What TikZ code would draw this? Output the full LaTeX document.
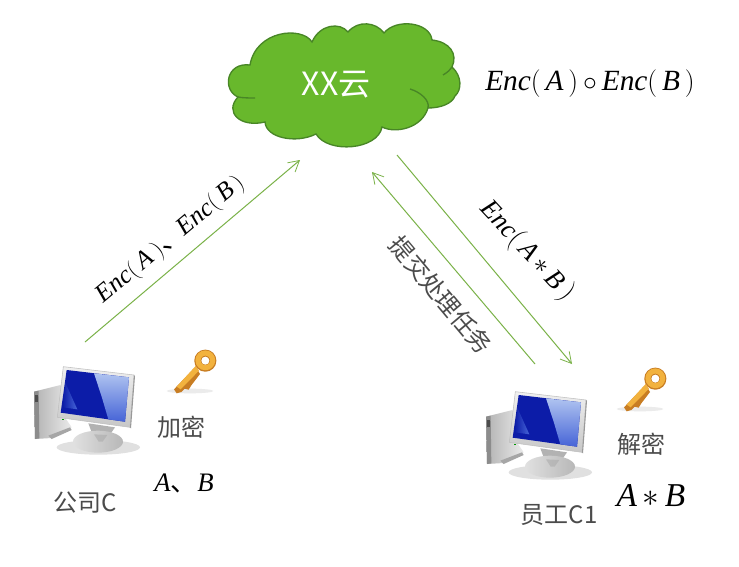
\documentclass[tikz,border=0pt]{standalone}
\usepackage{fontspec}
\setmainfont{Liberation Serif}
\newfontfamily\cjk{Noto Sans CJK SC}
\usetikzlibrary{arrows.meta}
\definecolor{linegreen}{RGB}{122,178,72}
\definecolor{cloudfill}{RGB}{104,184,44}
\definecolor{cloudedge}{RGB}{72,134,38}
\definecolor{txtgray}{RGB}{75,75,75}
\definecolor{glassdark}{RGB}{12,28,168}
\definecolor{glassmid}{RGB}{70,100,215}
\definecolor{glasslight}{RGB}{175,195,240}
\definecolor{keygold}{RGB}{242,178,62}
\definecolor{keydark}{RGB}{200,125,35}
\newcommand{\enc}{\textit{Enc}}
\tikzset{
  link/.style={draw=linegreen,line width=0.75pt,-{Straight Barb[length=8pt,width=9pt,line width=0.6pt]}},
  cjklabel/.style={font=\cjk\fontsize{18}{20}\selectfont,text=txtgray,inner sep=0pt},
  formula/.style={font=\fontsize{22}{24}\selectfont,text=black,inner sep=0pt},
  pics/computer/.style={code={
    \begin{scope}[x=0.25pt,y=-0.25pt]
      % shadow
      \fill[black!12] (235,322) ellipse [x radius=125,y radius=22];
      % tower
      \shade[left color=black!30,right color=black!8] (42,155) -- (122,135) -- (130,225) -- (155,262) -- (95,294) -- (45,297) -- cycle;
      \fill[black!45] (42,155) -- (56,152) -- (58,295) -- (45,297) -- cycle;
      \fill[black!70] (46,165) rectangle (54,185);
      \fill[black!35] (85,287) -- (150,262) -- (155,270) -- (95,297) -- cycle;
      % stand and foot
      \fill[black!30] (205,250) -- (285,262) -- (262,295) -- (220,290) -- cycle;
      \shade[left color=black!12,right color=black!28] (234,305) ellipse [x radius=75,y radius=33];
      \fill[black!35,opacity=.5] (222,283) -- (262,285) -- (248,305) -- (236,305) -- cycle;
      % monitor
      \shade[top color=black!6,bottom color=black!22,draw=black!25,line width=0.4pt] (130,80) -- (342,105) -- (330,262) -- (112,232) -- cycle;
      \fill[black!40] (342,105) -- (345,108) -- (333,265) -- (330,262) -- cycle;
      % glass
      \fill[glassdark] (140,90) -- (327,112) -- (315,245) -- (122,218) -- cycle;
      \shade[top color=glasslight,bottom color=glassmid] (222,100) -- (327,112) -- (315,245) -- (265,238) -- (245,170) -- cycle;
      \shade[left color=glassdark,right color=glassmid] (136,128) -- (172,208) -- (128,202) -- cycle;
      \fill[green!60!black] (127,236) rectangle (133,241);
    \end{scope}
  }},
  pics/goldkey/.style={code={
    \begin{scope}[x=0.25pt,y=-0.25pt]
      \fill[black!8] (510,153) ellipse [x radius=70,y radius=7];
      % shaft and teeth
      \fill[keydark] (527,80) -- (462,148) -- (470,160) -- (484,156) -- (494,146) -- (506,149) -- (514,136) -- (540,102) -- cycle;
      \fill[keygold] (527,78) -- (470,140) -- (482,148) -- (537,92) -- cycle;
      % ring
      \draw[keydark,line width=5.5pt] (556,62) circle (22);
      \draw[keygold,line width=3.8pt] (556,61) circle (22);
      \fill[white] (556,62) circle (12);
    \end{scope}
  }}
}
\begin{document}
\begin{tikzpicture}[x=0.75pt,y=-0.75pt]
\useasboundingbox (0,0) rectangle (739,567);
\fill[white] (0,0) rectangle (739,567);
% cloud
\fill[cloudfill,draw=cloudedge,line width=1pt]
 (250,65) .. controls (256,30) and (302,26) .. (312,42)
 .. controls (320,24) and (340,22) .. (348,32)
 .. controls (358,20) and (376,22) .. (384,33)
 .. controls (396,18) and (430,22) .. (432,40)
 .. controls (450,42) and (458,54) .. (452,67)
 .. controls (462,76) and (462,90) .. (455,96)
 .. controls (452,104) and (440,108) .. (428,108)
 .. controls (422,128) and (396,134) .. (382,127)
 .. controls (378,150) and (328,154) .. (316,134)
 .. controls (296,144) and (266,138) .. (265,122)
 .. controls (240,128) and (224,112) .. (238,97)
 .. controls (222,90) and (226,62) .. (250,65) -- cycle;
\draw[cloudedge,line width=1pt] (410,89) .. controls (420,92) and (430,100) .. (428,108);
\draw[cloudedge,line width=1pt] (443,75) .. controls (448,72) and (450,70) .. (452,67);
\draw[cloudedge,line width=1pt] (238,97) .. controls (243,98) and (250,98) .. (255,98);
\node[font=\cjk\fontsize{24}{26}\selectfont,text=white,inner sep=0pt] (cloud) at (336,85) {XX云};
% icons
\pic at (20,340) {computer};
\pic at (472,365) {computer};
\pic at (20,340) {goldkey};
\pic at (470,358) {goldkey};
% connector ends
\coordinate (cs) at (85,342);
\coordinate (ct) at (300,160);
\coordinate (es) at (397,155);
\coordinate (et) at (572,364);
\coordinate (ss) at (535,364);
\coordinate (st) at (372,172);
\draw[link] (cs) -- (ct);
\draw[link] (es) -- (et);
\draw[link] (ss) -- (st);
% labels
\node[formula] (total) at (590,84) {\enc$\biggl($\,\textit{A}\,$\biggr)$\,$\circ$\,\enc$\biggl($\,\textit{B}\,$\biggr)$};
\node[formula,font=\fontsize{19}{20}\selectfont,rotate=40] (up) at (171,240) {\enc$\Bigl($\,\textit{A}\,$\Bigr)${\cjk 、}\enc$\Bigl($\,\textit{B}\,$\Bigr)$};
\node[formula,font=\fontsize{20}{20}\selectfont,rotate=-47] (down) at (527,251) {\enc$\Bigl($\,\textit{A}\,$*$\,\textit{B}\,$\Bigr)$};
\node[cjklabel,rotate=-50] (task) at (441,295) {提交处理任务};
\node[cjklabel] (enclabel) at (181,427) {加密};
\node[cjklabel] (declabel) at (641,444) {解密};
\node[cjklabel] (company) at (85,503) {公司C};
\node[cjklabel] (staff) at (559,515) {员工C1};
\node[formula,font=\fontsize{20}{22}\selectfont] (ab) at (184,483) {\textit{A}{\cjk 、}\textit{B}};
\node[formula,font=\fontsize{25}{26}\selectfont] (prod) at (651,496) {\textit{A}\,$*$\,\textit{B}};
\end{tikzpicture}
\end{document}
